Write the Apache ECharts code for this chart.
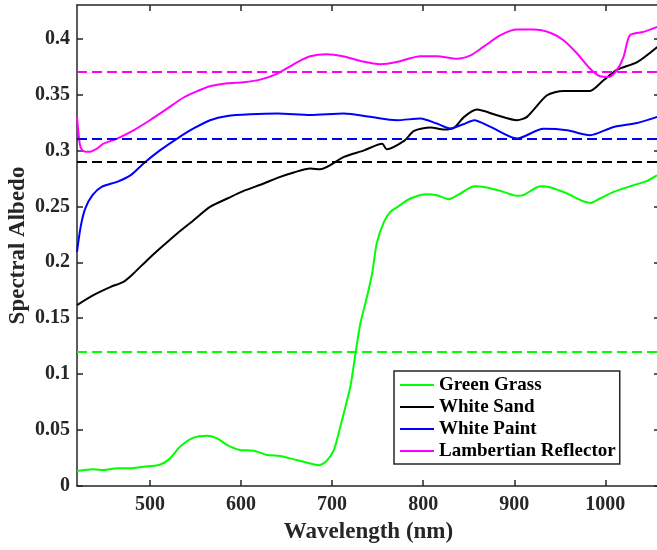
<!DOCTYPE html>
<html>
<head>
<meta charset="utf-8">
<title>Spectral Albedo</title>
<script src="https://cdn.jsdelivr.net/npm/echarts@6/dist/echarts.min.js"></script>
<style>
  html, body { margin: 0; padding: 0; background: #fff; }
  #chart { width: 657px; height: 550px; }
</style>
</head>
<body>
<div id="chart"></div>
<script>
// Measured reflectance spectra (wavelength in nm, albedo 0..1)
const grassWl  = [420, 438, 449, 464, 479, 493, 510, 521, 533, 548, 563, 574, 585, 599, 614, 629, 643, 658, 673, 685, 694, 702, 709, 720, 726, 731, 738, 744, 749, 757, 764, 771, 786, 804, 815, 828, 841, 856, 870, 885, 903, 910, 929, 940, 958, 973, 984, 994, 1009, 1031, 1046, 1057];
const grassVal = [0.0134, 0.0149, 0.0143, 0.0158, 0.0158, 0.0173, 0.0188, 0.0238, 0.0351, 0.0432, 0.045, 0.0426, 0.0366, 0.0322, 0.0316, 0.0277, 0.0268, 0.0238, 0.0208, 0.0185, 0.0223, 0.0322, 0.053, 0.0887, 0.12, 0.145, 0.168, 0.19, 0.2168, 0.2361, 0.245, 0.249, 0.257, 0.2609, 0.260, 0.2564, 0.2615, 0.268, 0.2669, 0.2638, 0.2594, 0.260, 0.268, 0.2669, 0.2615, 0.2555, 0.2531, 0.257, 0.2629, 0.2689, 0.2728, 0.2779];

const sandWl  = [420, 438, 457, 471, 482, 497, 511, 530, 548, 566, 585, 603, 625, 640, 658, 676, 687, 713, 735, 755, 760, 779, 790, 808, 823, 834, 845, 859, 881, 903, 914, 936, 954, 983, 998, 1013, 1035, 1057];
const sandVal = [0.1617, 0.1706, 0.178, 0.1825, 0.190, 0.2019, 0.2123, 0.2258, 0.2376, 0.2495, 0.257, 0.2638, 0.2704, 0.2755, 0.2803, 0.2838, 0.2832, 0.2942, 0.300, 0.306, 0.301, 0.3085, 0.3174, 0.3204, 0.3187, 0.3204, 0.330, 0.3365, 0.3315, 0.327, 0.330, 0.3493, 0.3532, 0.3532, 0.3627, 0.3722, 0.379, 0.3925];

const paintWl  = [420, 424, 429, 437, 447, 464, 479, 493, 511, 530, 548, 566, 585, 610, 640, 676, 713, 742, 771, 797, 815, 830, 844, 856, 874, 903, 932, 958, 983, 1009, 1035, 1057];
const paintVal = [0.2094, 0.2317, 0.248, 0.260, 0.2674, 0.2719, 0.2779, 0.2883, 0.300, 0.3106, 0.3196, 0.327, 0.3308, 0.3323, 0.333, 0.3317, 0.333, 0.330, 0.327, 0.3285, 0.324, 0.3196, 0.3234, 0.327, 0.321, 0.3106, 0.3193, 0.318, 0.3136, 0.321, 0.3246, 0.330];

const lambWl  = [420, 423, 426, 433, 442, 449, 464, 482, 500, 519, 537, 552, 566, 585, 603, 621, 640, 662, 676, 694, 713, 731, 753, 771, 797, 815, 837, 852, 866, 885, 903, 921, 940, 954, 969, 983, 994, 1004, 1013, 1020, 1027, 1042, 1057];
const lambVal = [0.330, 0.306, 0.300, 0.2987, 0.3017, 0.306, 0.3106, 0.318, 0.327, 0.3374, 0.3473, 0.353, 0.3574, 0.360, 0.361, 0.3633, 0.3687, 0.379, 0.3842, 0.386, 0.384, 0.380, 0.377, 0.379, 0.3842, 0.3842, 0.382, 0.385, 0.3925, 0.403, 0.408, 0.408, 0.405, 0.3985, 0.3866, 0.3732, 0.3663, 0.3657, 0.3722, 0.3836, 0.403, 0.406, 0.4104];

// Broadband (mean) albedo of each surface, drawn as dashed reference lines
const meanAlbedo = [0.12, 0.29, 0.31, 0.37];

const seriesNames  = ['Green Grass', 'White Sand', 'White Paint', 'Lambertian Reflector'];
const seriesColors = ['#00ff00', '#000000', '#0000ff', '#ff00ff'];
const seriesWl  = [grassWl, sandWl, paintWl, lambWl];
const seriesVal = [grassVal, sandVal, paintVal, lambVal];

const xTicks = [500, 600, 700, 800, 900, 1000];
const yTicks = [0, 0.05, 0.1, 0.15, 0.2, 0.25, 0.3, 0.35, 0.4];
const xRange = [420, 1060];
const yRange = [0, 0.43];

const FONT = 'Liberation Serif';
const AXIS_COLOR = '#262626';

function pairs(xs, ys) {
  return xs.map((x, i) => [x, ys[i]]);
}

function baseAxis(ticks, range, extra) {
  return Object.assign({
    type: 'value',
    min: range[0],
    max: range[1],
    axisLine: { show: true, onZero: false, lineStyle: { color: AXIS_COLOR, width: 1.5 } },
    axisTick: { show: true, inside: true, length: 6, customValues: ticks, lineStyle: { color: AXIS_COLOR, width: 1.5 } },
    splitLine: { show: false }
  }, extra);
}

const chart = echarts.init(document.getElementById('chart'), null, { renderer: 'canvas' });

const series = seriesNames.map((name, i) => ({
  name: name,
  type: 'line',
  xAxisIndex: 0,
  yAxisIndex: 0,
  data: pairs(seriesWl[i], seriesVal[i]),
  showSymbol: false,
  symbol: 'none',
  smooth: 0.25,
  lineStyle: { color: seriesColors[i], width: 2 },
  itemStyle: { color: seriesColors[i] },
  z: 3,
  markLine: {
    silent: true,
    symbol: ['none', 'none'],
    label: { show: false },
    animation: false,
    lineStyle: { color: seriesColors[i], type: [10, 5], width: 2 },
    data: [{ yAxis: meanAlbedo[i] }]
  }
}));

chart.setOption({
  animation: false,
  backgroundColor: '#ffffff',
  grid: { left: 77, top: 5, right: -3, bottom: 64, containLabel: false, outerBoundsMode: 'none' },
  xAxis: [
    baseAxis(xTicks, xRange, {
      position: 'bottom',
      name: 'Wavelength (nm)',
      nameLocation: 'middle',
      nameGap: 35,
      nameMoveOverlap: false,
      nameTextStyle: { fontFamily: FONT, fontWeight: 'bold', fontSize: 23, color: AXIS_COLOR },
      axisLabel: {
        show: true, customValues: xTicks, margin: 9,
        fontFamily: FONT, fontWeight: 'bold', fontSize: 20, color: AXIS_COLOR,
        formatter: v => String(v)
      }
    }),
    baseAxis(xTicks, xRange, { position: 'top', axisLabel: { show: false } })
  ],
  yAxis: [
    baseAxis(yTicks, yRange, {
      position: 'left',
      name: 'Spectral Albedo',
      nameLocation: 'middle',
      nameGap: 47,
      nameMoveOverlap: false,
      nameRotate: 90,
      nameTextStyle: { fontFamily: FONT, fontWeight: 'bold', fontSize: 23, color: AXIS_COLOR },
      axisLabel: {
        show: true, customValues: yTicks, margin: 7,
        fontFamily: FONT, fontWeight: 'bold', fontSize: 20, color: AXIS_COLOR,
        formatter: v => String(Math.round(v * 100) / 100)
      }
    }),
    baseAxis(yTicks, yRange, { position: 'right', axisLabel: { show: false } })
  ],
  legend: {
    orient: 'vertical',
    left: 394,
    top: 371,
    itemWidth: 34,
    itemHeight: 2,
    itemGap: 2,
    padding: [4, 4, 3, 6],
    backgroundColor: '#ffffff',
    borderColor: AXIS_COLOR,
    borderWidth: 1.5,
    borderRadius: 0,
    selectedMode: false,
    icon: 'rect',
    textStyle: { fontFamily: FONT, fontWeight: 'bold', fontSize: 19, lineHeight: 20, color: '#000000' },
    data: seriesNames.map((n, i) => ({ name: n, itemStyle: { color: seriesColors[i] } }))
  },
  series: series
});
</script>
</body>
</html>
